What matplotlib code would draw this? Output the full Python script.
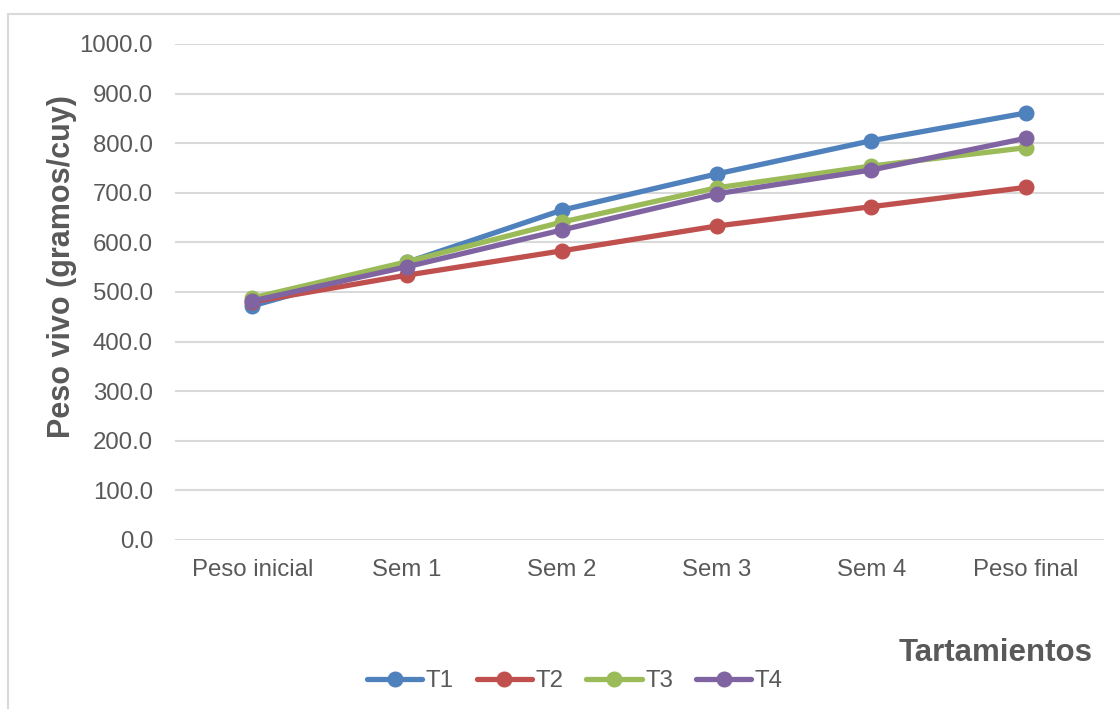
import matplotlib
matplotlib.use("Agg")
import matplotlib.pyplot as plt
from matplotlib.patches import Rectangle

categories = ["Peso inicial", "Sem 1", "Sem 2", "Sem 3", "Sem 4", "Peso final"]
t1 = [472, 560, 665, 738, 805, 861]
t2 = [480, 534, 583, 633, 672, 711]
t3 = [488, 561, 641, 710, 754, 791]
t4 = [482, 551, 625, 698, 746, 810]
series_names = ["T1", "T2", "T3", "T4"]
series_colors = ["#4f81bd", "#c0504d", "#9bbb59", "#8064a2"]
yticks = [0, 100, 200, 300, 400, 500, 600, 700, 800, 900, 1000]

plt.rcParams['font.family'] = ['Liberation Sans', 'DejaVu Sans']
W, H = 1120, 709
fig = plt.figure(figsize=(W / 100, H / 100), dpi=100)

# outer chart frame
fig.add_artist(Rectangle((8 / W, -0.1), 1.2, (H - 14) / H + 0.1,
                         transform=fig.transFigure, fill=False,
                         edgecolor="#d9d9d9", linewidth=1.5))

left, right, top, bottom = 175, 1103.5, 44, 540
ax = fig.add_axes([left / W, 1 - bottom / H, (right - left) / W, (bottom - top) / H])
ax.set_xlim(-0.5, len(categories) - 0.5)
ax.set_ylim(0, 1000)
for s in ax.spines.values():
    s.set_visible(False)
ax.set_yticks(yticks)
ax.set_yticklabels([f"{v:.1f}" for v in yticks])
ax.set_xticks(range(len(categories)))
ax.set_xticklabels(categories)
ax.tick_params(axis='both', length=0, labelsize=17.3, labelcolor="#595959")
ax.tick_params(axis='y', pad=15.8)
ax.tick_params(axis='x', pad=13.5)
ax.yaxis.grid(True, color="#d9d9d9", linewidth=1.5)
ax.set_axisbelow(True)

x = list(range(len(categories)))
handles = []
for vals, name, col in zip([t1, t2, t3, t4], series_names, series_colors):
    h, = ax.plot(x, vals, color=col, linewidth=3.8, marker='o', markersize=10.5,
                 label=name, solid_capstyle='round', clip_on=False)
    handles.append(h)

ax.set_ylabel("Peso vivo (gramos/cuy)", fontsize=22, fontweight='bold',
              color="#595959")
ax.yaxis.set_label_coords((77 - left) / (right - left), (540 - 267) / (bottom - top))

fig.text(1093 / W, 1 - 653 / H, "Tartamientos", fontsize=22.5, fontweight='bold',
         color="#595959", ha='right', va='center')

leg = fig.legend(handles=handles, loc='center', bbox_to_anchor=(575 / W, 1 - 681 / H),
                 ncol=4, frameon=False, fontsize=17.3, handlelength=2.3,
                 handletextpad=0.15, columnspacing=0.95, borderpad=0)
for t in leg.get_texts():
    t.set_color("#595959")

fig.savefig("out.png", dpi=100)
